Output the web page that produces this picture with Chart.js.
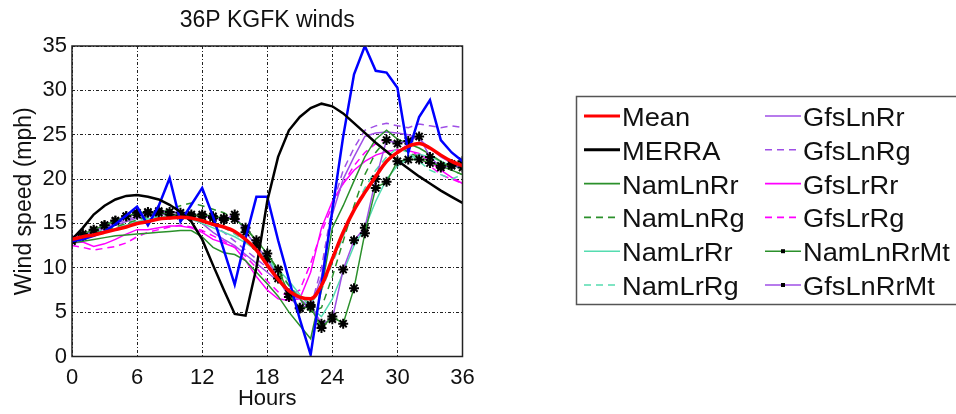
<!DOCTYPE html>
<html>
<head>
<meta charset="utf-8">
<title>36P KGFK winds</title>
<script src="https://cdn.jsdelivr.net/npm/chart.js@4"></script>
<style>
  html, body { margin: 0; padding: 0; background: #fff; }
  #chart { display: block; }
</style>
</head>
<body>
<canvas id="chart" width="956" height="414"></canvas>
<script>
// hourly values, mph
const hours = [0,1,2,3,4,5,6,7,8,9,10,11,12,13,14,15,16,17,18,19,20,21,22,23,24,25,26,27,28,29,30,31,32,33,34,35,36];

const meanWind = [13.2,13.5,13.7,14.0,14.3,14.6,15.0,15.2,15.5,15.6,15.7,15.6,15.3,14.9,14.6,14.1,13.2,12.0,10.3,8.7,7.4,6.7,6.5,8.0,11.0,14.0,16.5,18.5,20.3,22.0,23.0,23.7,24.0,23.5,22.7,22.0,21.5];
const merraWind = [13.2,14.5,16.0,17.0,17.7,18.1,18.2,18.0,17.7,17.1,16.3,15.2,13.2,10.3,7.5,4.8,4.6,10.0,17.5,22.5,25.5,27.0,28.0,28.5,28.2,27.4,26.3,25.2,24.1,23.1,22.1,21.2,20.3,19.5,18.7,18.0,17.3];
const obsWind = [13.0,13.2,13.6,14.1,14.9,15.9,16.9,14.8,17.0,20.1,15.2,17.1,19.0,15.8,12.0,8.1,13.3,18.0,18.0,13.1,8.7,4.2,0.2,8.2,16.5,24.8,31.8,35.0,32.2,32.0,30.3,23.0,27.0,28.9,24.4,23.0,22.0];

const namLnRr = [12.8,13.0,13.2,13.4,13.6,13.7,13.8,13.9,14.0,14.1,14.2,14.2,13.5,12.3,11.7,11.5,10.8,9.5,8.2,6.8,5.0,3.5,2.0,7.5,14.5,17.0,19.8,22.5,24.5,25.5,24.5,24.0,23.5,22.8,22.0,21.0,20.5];
const namLnRg = [13.0,13.5,13.8,14.2,14.6,15.0,15.4,15.8,16.2,16.6,17.0,17.3,17.0,16.6,16.2,15.5,14.5,13.0,11.5,9.8,8.0,6.5,5.0,5.5,9.0,13.0,17.0,20.5,23.0,24.5,24.0,23.0,22.5,22.0,21.5,21.0,20.5];
const namLrRr = [13.0,13.3,13.6,14.0,14.4,14.8,15.2,15.5,15.7,15.8,15.8,15.5,15.0,14.5,14.0,13.5,12.8,12.0,11.0,9.8,8.5,7.0,5.5,4.5,6.5,9.5,12.5,14.5,17.5,20.0,21.5,22.3,22.8,22.5,22.0,21.5,21.2];
const namLrRg = [13.2,13.6,14.0,14.3,14.6,15.0,15.3,15.6,15.8,16.0,16.0,15.8,15.4,15.0,14.5,13.8,13.0,12.0,10.8,9.5,8.0,6.8,6.0,7.5,10.5,13.5,16.5,19.0,21.0,22.5,23.5,23.0,22.0,21.0,20.5,20.0,20.5];
const gfsLnRr = [13.3,13.6,14.0,14.4,14.8,15.2,15.6,15.8,16.0,16.0,15.8,15.5,15.0,14.0,13.2,12.5,11.5,10.5,9.5,8.5,7.5,6.5,5.5,9.0,16.0,20.0,22.5,24.8,25.2,25.3,25.2,25.0,24.5,23.5,22.5,21.8,21.3];
const gfsLnRg = [13.5,13.8,14.2,14.6,15.0,15.4,15.8,16.0,16.2,16.2,16.0,15.7,15.3,14.8,14.0,13.0,12.0,11.0,10.0,8.8,7.5,6.2,5.5,10.0,17.0,21.0,23.5,25.5,26.0,26.3,26.0,25.8,26.2,26.0,25.8,26.0,25.8];
const gfsLrRr = [12.8,12.9,12.4,12.7,13.2,13.8,14.3,14.3,14.5,14.7,14.7,14.5,14.0,13.2,12.8,12.3,10.8,9.0,7.5,6.5,6.3,6.5,9.5,14.5,17.5,19.5,21.0,22.0,22.7,23.1,23.3,23.2,22.9,22.0,21.0,20.2,19.5];
const gfsLrRg = [12.5,12.3,12.0,12.2,12.4,12.8,13.5,14.0,14.3,14.6,14.8,14.6,14.2,13.6,13.0,12.3,11.3,10.0,8.5,7.3,6.8,7.5,10.5,14.0,17.0,19.5,21.5,23.0,24.0,24.5,24.0,23.5,22.5,21.5,20.5,20.0,19.5];
const namLnRrMt = [13.0,13.8,14.3,14.8,15.3,15.8,16.2,16.3,16.2,16.0,15.9,15.8,16.0,15.8,15.6,15.5,14.5,13.1,11.6,9.8,7.1,5.4,5.6,3.2,4.5,3.7,7.7,13.9,19.0,19.7,22.0,22.2,22.2,21.8,21.5,21.7,22.0];
const gfsLnRrMt = [13.2,13.6,14.2,14.8,15.3,15.8,16.0,16.2,16.4,16.3,16.2,16.0,15.8,15.6,15.4,16.0,14.0,12.5,11.0,8.8,6.7,5.5,5.8,3.7,4.2,9.8,13.1,14.5,20.0,24.4,24.0,24.3,24.8,22.5,21.3,21.5,21.3];

const xTicks = [0, 6, 12, 18, 24, 30, 36];
const yTicks = [0, 5, 10, 15, 20, 25, 30, 35];

const legendNames = ["Mean", "MERRA", "NamLnRr", "NamLnRg", "NamLrRr", "NamLrRg",
  "GfsLnRr", "GfsLnRg", "GfsLrRr", "GfsLrRg", "NamLnRrMt", "GfsLnRrMt"];

const GREEN = "#2b902b";
const TEAL = "#55dcb0";
const PURPLE = "#9f4fe6";
const MAGENTA = "#ff00ff";
const DASH = [7, 5];

function pts(values) {
  return values.map((v, i) => ({ x: hours[i], y: v }));
}

function series(label, values, color, width, order, extra) {
  return Object.assign({
    label: label,
    data: pts(values),
    borderColor: color,
    backgroundColor: color,
    borderWidth: width,
    pointRadius: 0,
    tension: 0,
    fill: false,
    order: order,
  }, extra || {});
}

const starMarks = {
  pointStyle: "star",
  pointRadius: 5,
  pointBorderColor: "#000",
  pointBackgroundColor: "#000",
  pointBorderWidth: 2,
};

const datasets = [
  series("Mean", meanWind, "#ff0000", 3.5, 0, { cubicInterpolationMode: "monotone" }),
  series("MERRA", merraWind, "#000000", 2.5, 1),
  series("", obsWind, "#0000ff", 2.5, 2),
  series("NamLnRrMt", namLnRrMt, GREEN, 1.5, 3, starMarks),
  series("GfsLnRrMt", gfsLnRrMt, PURPLE, 1.5, 4, starMarks),
  series("NamLnRr", namLnRr, GREEN, 1.5, 5),
  series("NamLnRg", namLnRg, GREEN, 1.5, 6, { borderDash: DASH }),
  series("NamLrRr", namLrRr, TEAL, 1.5, 7),
  series("NamLrRg", namLrRg, TEAL, 1.5, 8, { borderDash: DASH }),
  series("GfsLnRr", gfsLnRr, PURPLE, 1.5, 9),
  series("GfsLnRg", gfsLnRg, PURPLE, 1.5, 10, { borderDash: DASH }),
  series("GfsLrRr", gfsLrRr, MAGENTA, 1.5, 11),
  series("GfsLrRg", gfsLrRg, MAGENTA, 1.5, 12, { borderDash: DASH }),
];

// axes frame plus the boxed two-column legend on the right
const framePlugin = {
  id: "frame",
  afterDatasetsDraw(chart) {
    const { ctx, chartArea: a } = chart;
    ctx.save();
    ctx.strokeStyle = "#222";
    ctx.lineWidth = 1.5;
    ctx.setLineDash([]);
    ctx.strokeRect(a.left, a.top, a.right - a.left, a.bottom - a.top);
    ctx.restore();
  },
};

const legendPlugin = {
  id: "boxLegend",
  afterDraw(chart) {
    const ctx = chart.ctx;
    ctx.save();
    ctx.fillStyle = "#fff";
    ctx.fillRect(576, 96, 390, 209);
    ctx.strokeStyle = "#555";
    ctx.lineWidth = 1.5;
    ctx.strokeRect(576.5, 96.5, 400, 208);

    ctx.font = "25px 'Liberation Sans', Arial, sans-serif";
    ctx.textBaseline = "alphabetic";
    ctx.textAlign = "left";
    legendNames.forEach((name, i) => {
      const ds = chart.data.datasets.find((d) => d.label === name);
      const col = i < 6 ? 0 : 1;
      const row = i % 6;
      const x0 = col ? 765 : 584;
      const y = 116 + row * 33.8;
      ctx.strokeStyle = ds.borderColor;
      ctx.lineWidth = ds.borderWidth > 2 ? 3 : 1.6;
      ctx.setLineDash(ds.borderDash || []);
      ctx.beginPath();
      ctx.moveTo(x0, y);
      ctx.lineTo(x0 + 36, y);
      ctx.stroke();
      ctx.setLineDash([]);
      if (ds.pointStyle === "star") {
        ctx.fillStyle = "#000";
        ctx.fillRect(x0 + 16, y - 2, 4, 4);
      }
      ctx.fillStyle = "#111";
      ctx.save();
      ctx.translate(x0 + 38, y + 10);
      ctx.scale(1.09, 1);
      ctx.fillText(name, 0, 0);
      ctx.restore();
    });
    ctx.restore();
  },
};

const gridDash = [3, 2, 1, 2];

new Chart(document.getElementById("chart"), {
  type: "line",
  data: { datasets: datasets },
  plugins: [framePlugin, legendPlugin],
  options: {
    responsive: false,
    animation: false,
    devicePixelRatio: 1,
    layout: { padding: { top: 0, right: 493.5, bottom: 0, left: 0 } },
    plugins: {
      legend: { display: false },
      tooltip: { enabled: false },
      title: {
        display: true,
        fullSize: false,
        text: "36P KGFK winds",
        color: "#111",
        font: { family: "'Liberation Sans', Arial, sans-serif", size: 23, weight: "normal" },
        padding: { top: 7, bottom: 11.4 },
      },
    },
    scales: {
      x: {
        type: "linear",
        min: 0,
        max: 36,
        afterBuildTicks: (scale) => { scale.ticks = xTicks.map((v) => ({ value: v })); },
        afterFit: (scale) => { scale.height = 57.5; },
        ticks: {
          color: "#111",
          padding: 8,
          maxRotation: 0,
          font: { family: "'Liberation Sans', Arial, sans-serif", size: 22 },
        },
        grid: { color: "#222", lineWidth: 1, drawTicks: false },
        border: { display: false, dash: gridDash },
        title: {
          display: true,
          text: "Hours",
          color: "#111",
          font: { family: "'Liberation Sans', Arial, sans-serif", size: 22 },
          padding: { top: 0, bottom: 2 },
        },
      },
      y: {
        type: "linear",
        min: 0,
        max: 35,
        afterBuildTicks: (scale) => { scale.ticks = yTicks.map((v) => ({ value: v })); },
        afterFit: (scale) => { scale.width = 72; },
        ticks: {
          color: "#111",
          padding: 5,
          font: { family: "'Liberation Sans', Arial, sans-serif", size: 22 },
        },
        grid: { color: "#222", lineWidth: 1, drawTicks: false },
        border: { display: false, dash: gridDash },
        title: {
          display: true,
          text: "Wind speed (mph)",
          color: "#111",
          font: { family: "'Liberation Sans', Arial, sans-serif", size: 23 },
          padding: { top: 11, bottom: 0 },
        },
      },
    },
  },
});
</script>
</body>
</html>
